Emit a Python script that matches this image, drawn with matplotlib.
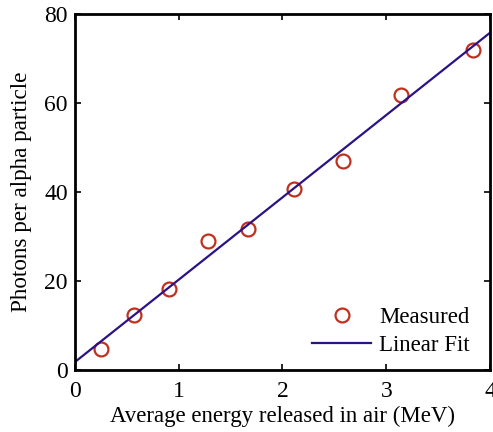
import matplotlib
matplotlib.use("Agg")
import matplotlib.pyplot as plt

energy = [0.25, 0.57, 0.91, 1.28, 1.67, 2.11, 2.58, 3.14, 3.84]
photons = [4.7, 12.4, 18.2, 29.0, 31.8, 40.6, 46.9, 61.9, 72.0]
fit_x = [0.0, 4.0]
fit_y = [1.8, 75.8]

plt.rcParams['font.family'] = ['Liberation Serif', 'DejaVu Serif']

fig = plt.figure(figsize=(4.93, 4.32), dpi=100)
ax = fig.add_axes([0.152, 0.1435, 0.842, 0.824])

ax.plot(energy, photons, linestyle='none', marker='o', markersize=10,
        markerfacecolor='none', markeredgecolor='#c0301e', markeredgewidth=1.6,
        label='Measured')
ax.plot(fit_x, fit_y, color='#2b1385', linewidth=1.6, label='Linear Fit')

ax.set_xlim(0, 4)
ax.set_ylim(0, 80)
ax.set_xticks([0, 1, 2, 3, 4])
ax.set_yticks([0, 20, 40, 60, 80])
ax.tick_params(direction='in', top=True, right=True, labelsize=17, length=4, width=1.2)
ax.tick_params(axis='x', pad=8)
ax.tick_params(axis='y', pad=5)
for s in ax.spines.values():
    s.set_linewidth(2)

ax.set_xlabel('Average energy released in air (MeV)', fontsize=16.5, labelpad=3)
ax.set_ylabel('Photons per alpha particle', fontsize=16.7, labelpad=9)

leg = ax.legend(loc='lower right', bbox_to_anchor=(1.0072, -0.0253), frameon=False,
                fontsize=16.5, handlelength=2.6, borderaxespad=0.6,
                handletextpad=0.35, labelspacing=0.3)

fig.savefig('out.png', dpi=100)
